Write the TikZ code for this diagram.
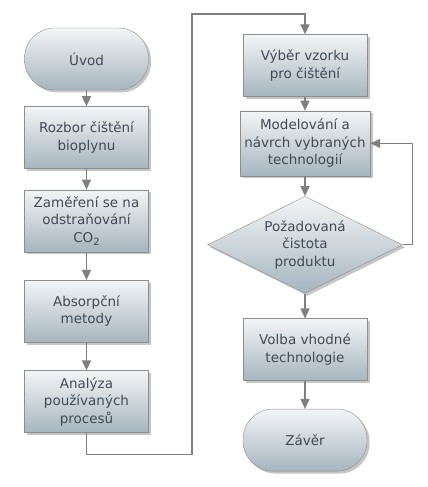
\documentclass[tikz,border=0pt]{standalone}
\usepackage{fontspec}
\setmainfont{DejaVu Sans}
\usetikzlibrary{positioning, arrows.meta, shapes.geometric, shadows}
\definecolor{boxtop}{HTML}{F3F5F6}
\definecolor{boxbottom}{HTML}{A6B5BF}
\definecolor{boxline}{HTML}{8E8E8E}
\definecolor{boxtext}{HTML}{414B55}
\definecolor{flowline}{HTML}{808080}
\tikzset{
every node/.style={font=\fontsize{13.5}{17.5}\selectfont, text=boxtext, align=center}, % text of all boxes
block/.style={rectangle, draw=boxline, top color=boxtop, bottom color=boxbottom,
  minimum width=124pt, minimum height=62pt, inner sep=0pt,
  drop shadow={shadow xshift=2.5pt, shadow yshift=-2.5pt, fill=black!45, opacity=0.5}},
terminal/.style={block, rounded corners=30pt}, % start and end
decision/.style={block, diamond, aspect=2, minimum width=195pt, minimum height=97pt},
flow/.style={color=flowline, line width=1.4pt, -{Triangle[width=9pt,length=10pt]}},
}
\begin{document}
\begin{tikzpicture}[x=1pt, y=1pt]
            \useasboundingbox (0,0) rectangle (428,487);
            % left column
            \node[terminal] (uvod) at (86.5,428) {Úvod};
            \node[block, below=16pt of uvod] (rozbor) {Rozbor čištění\\bioplynu};
            \node[block, below=21pt of rozbor] (zamereni) {Zaměření se na\\odstraňování\\CO\raisebox{-0.45ex}{\fontsize{10}{10}\selectfont 2}};
            \node[block, below=28pt of zamereni] (absorpcni) {Absorpční\\metody};
            \node[block, below=28pt of absorpcni] (analyza) {Analýza\\používaných\\procesů};
            % right column
            \node[block] (vyber) at (305,421.5) {Výběr vzorku\\pro čištění};
            \node[block, below=14pt of vyber, minimum width=130pt, minimum height=65pt] (modelovani) {Modelování a\\návrch vybraných\\technologií};
            \node[decision, below=20pt of modelovani] (pozadovana) {Požadovaná\\čistota\\produktu};
            \node[block, below=25pt of pozadovana] (volba) {Volba vhodné\\technologie};
            \node[terminal, below=28pt of volba] (zaver) {Závěr};
            \coordinate (topturn) at (192,473);
            \draw[flow]
                (uvod) edge (rozbor)
                (rozbor) edge (zamereni)
                (zamereni) edge (absorpcni)
                (absorpcni) edge (analyza)
                (vyber) edge (modelovani)
                (modelovani) edge (pozadovana)
                (pozadovana) edge (volba)
                (volba) edge (zaver)
                ;
            \draw[flow] (analyza.south) -- ++(0,-22) -| (topturn) -| (vyber.north);
            \draw[flow] (pozadovana.east) -- ++(10,0) |- (modelovani.east);
            \end{tikzpicture}
\end{document}
